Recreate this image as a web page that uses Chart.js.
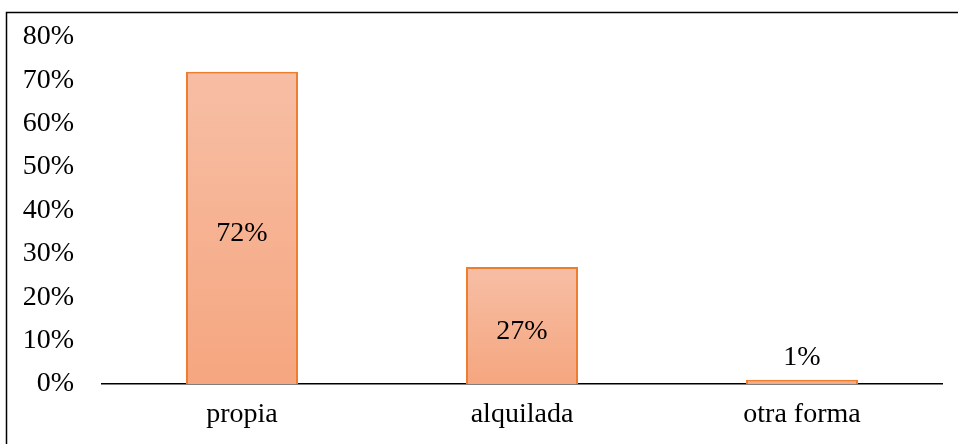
<!DOCTYPE html>
<html>
<head>
<meta charset="utf-8">
<script src="https://cdn.jsdelivr.net/npm/chart.js@4/dist/chart.umd.min.js"></script>
<style>
  html, body { margin: 0; padding: 0; background: #fff; }
  #wrap { width: 958px; height: 444px; position: relative; }
</style>
</head>
<body>
<div id="wrap"><canvas id="myChart" width="958" height="444"></canvas></div>
<script>
// data
const categories = ['propia', 'alquilada', 'otra forma'];
const shares = [72, 27, 1];
const yTicks = [0, 10, 20, 30, 40, 50, 60, 70, 80];

const FONT = "'Liberation Serif', 'Times New Roman', serif";

// outer frame (only top and left edges show in the reference)
const framePlugin = {
    id: 'frame',
    beforeDraw(chart) {
        const ctx = chart.ctx;
        ctx.save();
        ctx.fillStyle = '#fff';
        ctx.fillRect(0, 0, chart.width, chart.height);
        ctx.strokeStyle = '#000';
        ctx.lineWidth = 1.5;
        ctx.beginPath();
        ctx.moveTo(6.5, chart.height + 5);
        ctx.lineTo(6.5, 12.5);
        ctx.lineTo(chart.width + 5, 12.5);
        ctx.stroke();
        ctx.restore();
    }
};

// value labels: centered in the bar, above it when the bar is too short
const labelPlugin = {
    id: 'barLabels',
    afterDatasetsDraw(chart) {
        const ctx = chart.ctx;
        const meta = chart.getDatasetMeta(0);
        ctx.save();
        ctx.font = '28px ' + FONT;
        ctx.fillStyle = '#000';
        ctx.textAlign = 'center';
        ctx.textBaseline = 'middle';
        meta.data.forEach((bar, i) => {
            const v = shares[i];
            let y = (bar.y + bar.base) / 2 + 6;
            if (bar.base - bar.y < 40) y = bar.y - 22;
            ctx.fillText(v + '%', bar.x, y);
        });
        ctx.restore();
    }
};

new Chart(document.getElementById('myChart').getContext('2d'), {
    type: 'bar',
    data: {
        labels: categories,
        datasets: [{
            data: shares,
            backgroundColor: (context) => {
                const chart = context.chart;
                if (!chart.chartArea) return '#F6B191';
                const yScale = chart.scales.y;
                const top = yScale.getPixelForValue(context.raw);
                const base = yScale.getPixelForValue(0);
                const g = chart.ctx.createLinearGradient(0, top, 0, base);
                g.addColorStop(0, '#F7BEA5');
                g.addColorStop(1, '#F5A67F');
                return g;
            },
            borderColor: '#ED7D31',
            borderWidth: 2,
            borderSkipped: 'bottom',
            categoryPercentage: 0.4,
            barPercentage: 1
        }]
    },
    options: {
        responsive: false,
        animation: false,
        layout: { padding: { top: 37, right: 16, left: 0, bottom: 0 } },
        plugins: {
            legend: { display: false },
            title: { display: false },
            tooltip: { enabled: false }
        },
        scales: {
            x: {
                grid: { display: false, drawTicks: false },
                border: { display: true, color: '#000', width: 1.5 },
                ticks: { color: '#000', font: { family: FONT, size: 28 }, padding: 14 },
                afterFit(scale) { scale.height = 60; }
            },
            y: {
                min: 0,
                max: 80,
                grid: { display: false, drawTicks: false },
                border: { display: false },
                afterBuildTicks(scale) { scale.ticks = yTicks.map(v => ({ value: v })); },
                ticks: {
                    color: '#000',
                    font: { family: FONT, size: 28 },
                    padding: 28,
                    callback: (v) => v + '%'
                },
                afterFit(scale) {
                    scale.width = 102;
                    scale.paddingTop = 0;
                    scale.paddingBottom = 0;
                }
            }
        }
    },
    plugins: [framePlugin, labelPlugin]
});
</script>
</body>
</html>
